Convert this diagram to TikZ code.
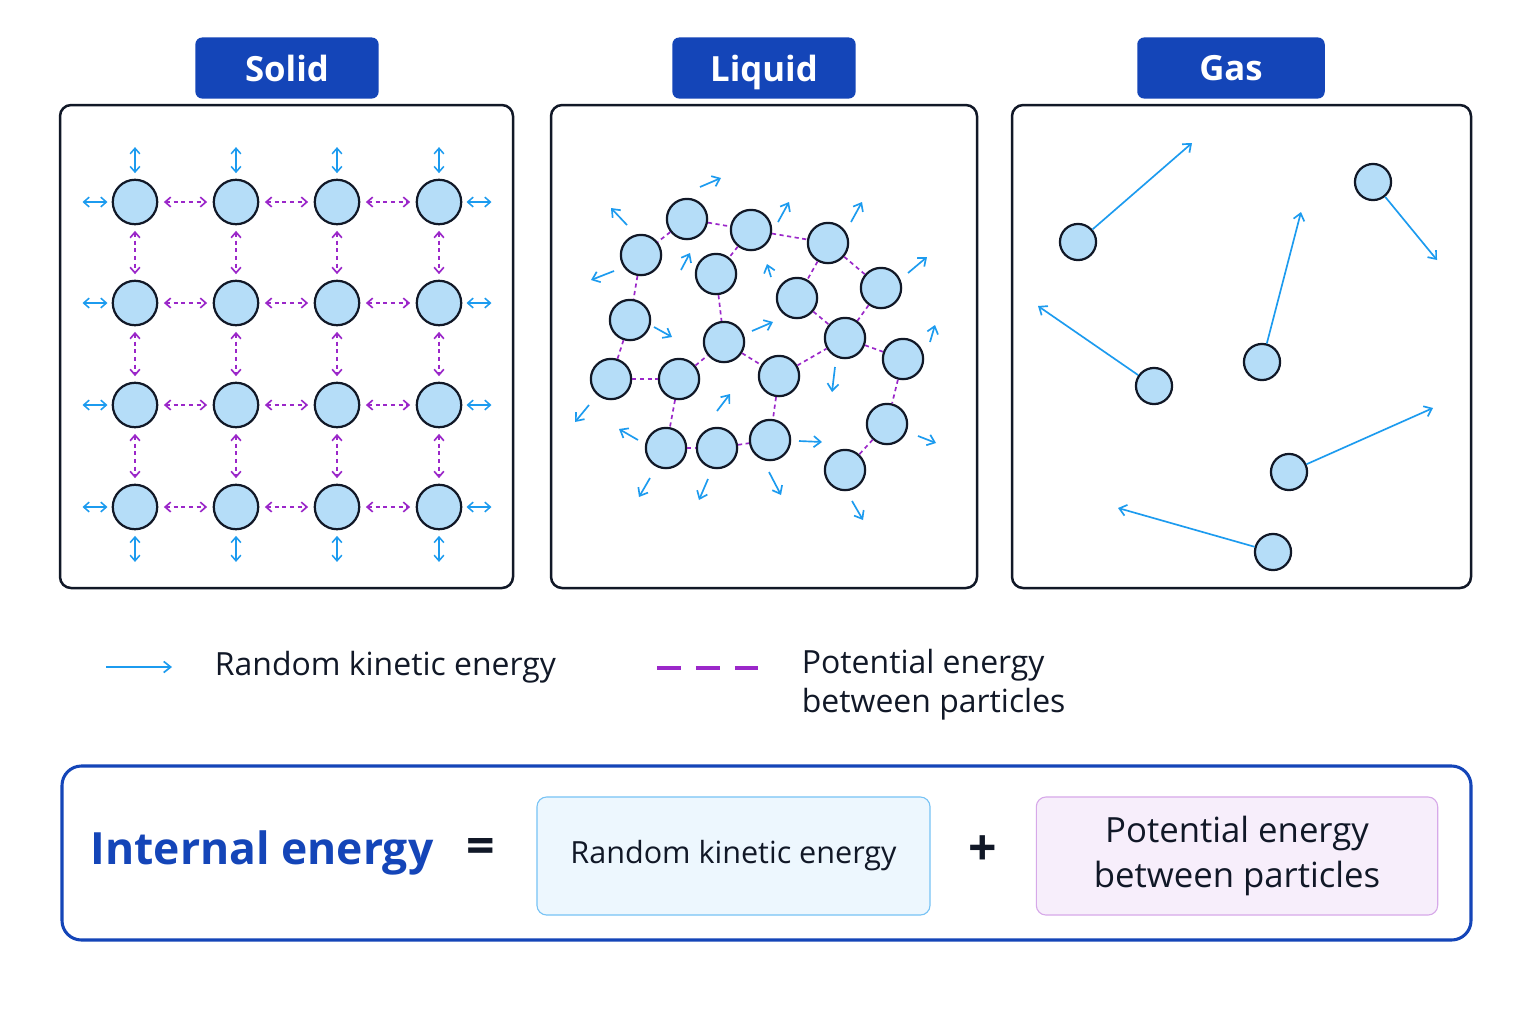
\documentclass[tikz,border=0pt]{standalone}
\usepackage{fontspec}
\setmainfont{Open Sans}
\usetikzlibrary{arrows.meta}
\definecolor{navy}{HTML}{1445B8}
\definecolor{ink}{HTML}{111827}
\definecolor{kin}{HTML}{1C9BEF}
\definecolor{pot}{HTML}{9B27C9}
\definecolor{ball}{HTML}{B5DDF8}
\tikzset{
  particle/.style={circle,draw=ink,line width=1.6pt,fill=ball,minimum size=32pt,inner sep=0pt},
  gasball/.style={particle,minimum size=26pt},
  kinarrow/.style={kin,line width=1.2pt,-{Straight Barb[length=5pt,width=8pt]}},
  kinboth/.style={kin,line width=1.1pt,{Straight Barb[length=4pt,width=7pt]}-{Straight Barb[length=4pt,width=7pt]}},
  bond/.style={pot,line width=1.2pt,dash pattern=on 3pt off 2.5pt},
  bondboth/.style={bond,{Straight Barb[length=4pt,width=7pt]}-{Straight Barb[length=4pt,width=7pt]}},
  panel/.style={draw=ink,line width=1.8pt,rounded corners=8pt},
  tab/.style={fill=navy,rounded corners=5pt,text=white,font=\fontsize{25}{30}\selectfont\bfseries,
    minimum width=132pt,minimum height=44pt,text depth=0pt},
  legend/.style={text=ink,font=\fontsize{23}{28}\selectfont,anchor=west,align=left}
}
\begin{document}
\begin{tikzpicture}[x=0.72pt,y=-0.72pt]
\useasboundingbox[fill=white] (0,0) rectangle (1536,1024);

% Phase panels
\draw[panel] (60,105) rectangle (513,588);
\draw[panel] (551,105) rectangle (977,588);
\draw[panel] (1012,105) rectangle (1471,588);
\node[tab] (tsolid) at (287,68) {Solid};
\node[tab] (tliquid) at (764,68) {Liquid};
\node[tab,minimum width=135pt] (tgas) at (1231,68) {Gas};

% Solid lattice
\foreach \i/\x in {1/135,2/236,3/337,4/439}
  \foreach \j/\y in {1/202,2/303,3/405,4/507}
    \node[particle] (s\i\j) at (\x,\y) {};
\foreach \j in {1,...,4}{
  \foreach \i/\k in {1/2,2/3,3/4}
    \draw[bondboth] ([xshift=4pt]s\i\j.east) -- ([xshift=-4pt]s\k\j.west);
  \draw[kinboth] ([xshift=-3pt]s1\j.west) -- ++(-25,0);
  \draw[kinboth] ([xshift=3pt]s4\j.east) -- ++(25,0);
}
\foreach \i in {1,...,4}{
  \foreach \j/\k in {1/2,2/3,3/4}
    \draw[bondboth] ([yshift=-4pt]s\i\j.south) -- ([yshift=4pt]s\i\k.north);
  \draw[kinboth] ([yshift=4pt]s\i1.north) -- ++(0,-26);
  \draw[kinboth] ([yshift=-4pt]s\i4.south) -- ++(0,26);
}

% Liquid cluster
\foreach \n/\x/\y in {a/687/219,b/751/230,c/828/243,d/641/255,e/716/274,f/797/298,
    g/881/288,h/630/320,i/724/342,j/845/338,k/903/359,l/611/379,m/679/379,n/779/376,
    o/887/424,p/666/448,q/717/448,r/770/440,s/845/470}
  \node[particle,minimum size=29pt] (l\n) at (\x,\y) {};
\foreach \u/\v in {a/d,a/b,b/e,b/c,c/f,c/g,d/h,e/i,f/j,g/j,h/l,l/m,m/i,i/n,n/j,j/k,
    m/p,n/r,p/q,q/r,k/o,o/s}
  \draw[bond] (l\u) -- (l\v);
\foreach \x/\y/\u/\v in {700/187/721/178,627/225/611/208,778/222/789/202,851/222/862/202,
    614/271/591/280,681/270/690/253,771/277/767/264,908/273/927/257,654/327/672/337,
    752/331/773/322,930/342/935/325,835/367/832/392,589/405/575/422,717/411/730/394,
    638/440/619/429,799/441/822/442,918/436/936/443,650/478/639/497,708/479/699/500,
    769/472/781/495,852/501/863/520}
  \draw[kinarrow] (\x,\y) -- (\u,\v);

% Gas particles
\foreach \n/\x/\y/\u/\v in {1/1078/242/1192/143,2/1373/182/1437/260,3/1262/362/1301/212,
    4/1154/386/1038/306,5/1289/472/1433/408,6/1273/552/1118/508}{
  \node[gasball] (g\n) at (\x,\y) {};
  \coordinate (gt\n) at (\u,\v);
  \draw[kinarrow] (g\n) -- (gt\n);
}

% Legend
\coordinate (k0) at (106,667);
\coordinate (k1) at (172,667);
\draw[kinarrow] (k0) -- (k1);
\node[legend] (lkin) at (210,667) {Random kinetic energy};
\coordinate (p0) at (657,668);
\coordinate (p1) at (760,668);
\draw[pot,line width=2.2pt,dash pattern=on 17pt off 11pt] (p0) -- (p1);
\node[legend,text depth=0pt] (lpot) at (797,681) {Potential energy\\between particles};

% Summary box
\draw[draw=navy,line width=2.2pt,rounded corners=14pt] (62,766) rectangle (1471,940);
\node[text=navy,font=\fontsize{32}{40}\selectfont\bfseries] (ie) at (262,853) {Internal energy};
\node[text=ink,font=\fontsize{36}{40}\selectfont\bfseries] (eq) at (481,851) {=};
\node[draw=kin!60,fill=kin!8,rounded corners=7pt,line width=0.8pt,minimum width=283pt,minimum height=85pt,
  text=ink,font=\fontsize{22}{27}\selectfont] (bkin) at (733.5,856) {Random kinetic energy};
\node[text=ink,font=\fontsize{36}{40}\selectfont\bfseries] (plus) at (983,851) {+};
\node[draw=pot!40,fill=pot!8,rounded corners=7pt,line width=0.8pt,minimum width=289pt,minimum height=85pt,
  text=ink,align=center,font=\fontsize{25}{32}\selectfont] (bpot) at (1237,856) {Potential energy\\between particles};
\end{tikzpicture}
\end{document}
